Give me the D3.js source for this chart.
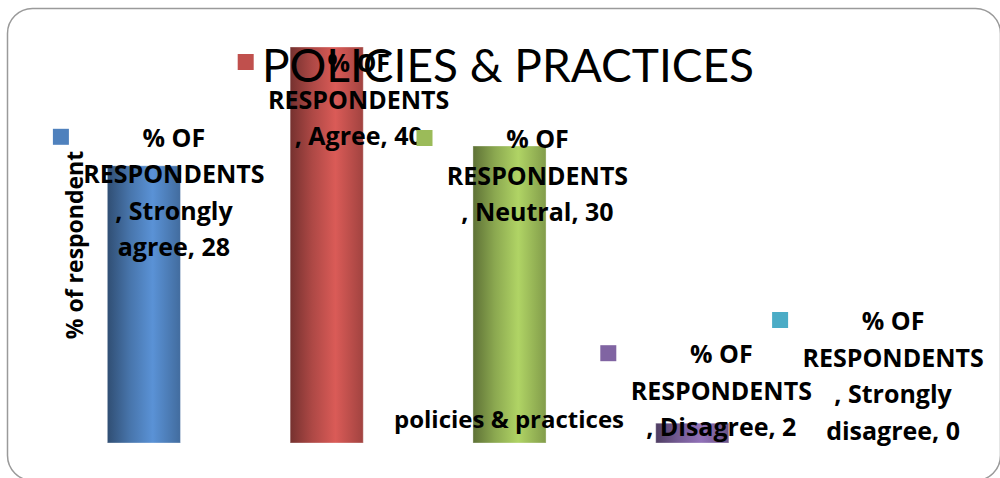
<!DOCTYPE html>
<html>
<head>
<meta charset="utf-8">
<script src="https://cdn.jsdelivr.net/npm/d3@7/dist/d3.min.js"></script>
<style>
  html, body { margin: 0; padding: 0; background: #fff; }
  svg { display: block; }
</style>
</head>
<body>
<svg id="chart" width="1000" height="478"></svg>
<script>
// ---- data ----
const title = "POLICIES & PRACTICES";
const seriesName = "% OF RESPONDENTS";
const categories = ["Strongly agree", "Agree", "Neutral", "Disagree", "Strongly disagree"];
const values = [28, 40, 30, 2, 0];
const colors = ["#4f81bd", "#c0504d", "#9bbb59", "#8064a2", "#4bacc6"];
const yAxisTitle = "% of respondent";
const xAxisTitle = "policies & practices";

// ---- layout ----
const plot = { left: 52.5, right: 966.5, top: 47, bottom: 443 };
const labelOffsets = [[30, -19], [32, 25], [28, 2], [29, -60], [18, -113]]; // from bar center / bar top
const lineH = 36.5;
const titleFont = "Lato, 'Open Sans', sans-serif";
const labelFont = "'Open Sans', Lato, sans-serif";

const svg = d3.select("#chart");

// border
svg.append("rect")
  .attr("x", 7.5).attr("y", 8.5)
  .attr("width", 993).attr("height", 472)
  .attr("rx", 25).attr("ry", 25)
  .attr("fill", "#fff")
  .attr("stroke", "#9a9a9a")
  .attr("stroke-width", 1.5);

const x = d3.scaleBand().domain(categories).range([plot.left, plot.right])
  .paddingInner(0.6).paddingOuter(0.3);
const y = d3.scaleLinear().domain([0, 40]).range([plot.bottom, plot.top]);

// gradients for cylinder look
const defs = svg.append("defs");
colors.forEach((c, i) => {
  const base = d3.color(c);
  const g = defs.append("linearGradient").attr("id", "grad" + i)
    .attr("x1", "0%").attr("x2", "100%").attr("y1", "0%").attr("y2", "0%");
  g.append("stop").attr("offset", "0%").attr("stop-color", base.darker(1.4));
  g.append("stop").attr("offset", "30%").attr("stop-color", base.darker(0.3));
  g.append("stop").attr("offset", "62%").attr("stop-color", base.brighter(0.35));
  g.append("stop").attr("offset", "100%").attr("stop-color", base.darker(0.5));
});

// bars
svg.append("g").selectAll("rect")
  .data(categories)
  .join("rect")
  .attr("x", d => x(d))
  .attr("width", x.bandwidth())
  .attr("y", (d, i) => y(values[i]))
  .attr("height", (d, i) => y(0) - y(values[i]))
  .attr("fill", (d, i) => "url(#grad" + i + ")")
  .attr("stroke", "rgba(255,255,255,0.35)")
  .attr("stroke-width", 1);

// title
svg.append("text")
  .attr("x", 508).attr("y", 82)
  .attr("text-anchor", "middle")
  .attr("font-family", titleFont)
  .attr("font-size", 46)
  .attr("fill", "#000")
  .text(title);

// axis titles
svg.append("text")
  .attr("transform", "translate(83,245) rotate(-90)")
  .attr("text-anchor", "middle")
  .attr("font-family", labelFont)
  .attr("font-weight", "bold")
  .attr("font-size", 23)
  .attr("fill", "#000")
  .text(yAxisTitle);

svg.append("text")
  .attr("x", 509).attr("y", 428)
  .attr("text-anchor", "middle")
  .attr("font-family", labelFont)
  .attr("font-weight", "bold")
  .attr("font-size", 24)
  .attr("fill", "#000")
  .text(xAxisTitle);

// data labels with legend keys
const sParts = seriesName.split(" ");
const head = [sParts.slice(0, 2).join(" "), sParts.slice(2).join(" ")];
categories.forEach((cat, i) => {
  const words = cat.split(" ");
  let tail;
  if (words.length > 1) tail = [", " + words[0], words.slice(1).join(" ") + ", " + values[i]];
  else tail = [", " + cat + ", " + values[i]];
  const lines = head.concat(tail);
  const cx = x(cat) + x.bandwidth() / 2 + labelOffsets[i][0];
  const by = y(values[i]) + labelOffsets[i][1];
  const g = svg.append("g");
  g.append("rect")
    .attr("x", cx - 121).attr("y", by - 18)
    .attr("width", 16).attr("height", 16)
    .attr("fill", colors[i]);
  const t = g.append("text")
    .attr("text-anchor", "middle")
    .attr("font-family", labelFont)
    .attr("font-weight", "bold")
    .attr("font-size", 25)
    .attr("fill", "#000");
  lines.forEach((ln, k) => {
    t.append("tspan").attr("x", cx).attr("y", by + k * lineH).text(ln);
  });
});
</script>
</body>
</html>
